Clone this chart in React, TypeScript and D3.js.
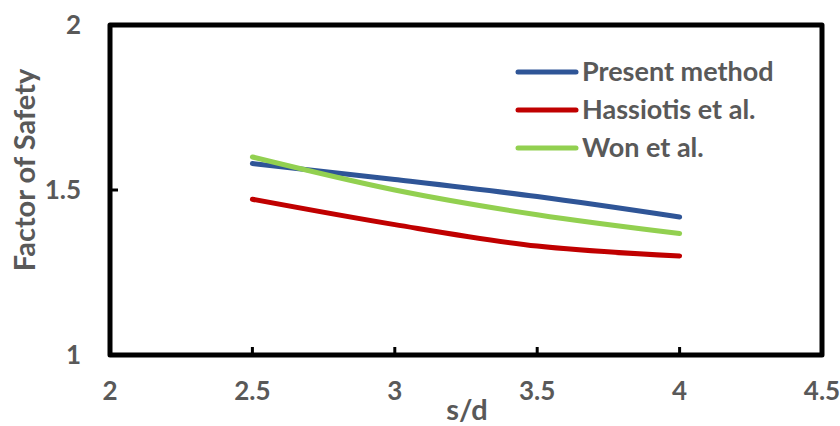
import React from "react";
import * as d3 from "d3";

const sdValues = [2.5, 3, 3.5, 4];
const presentMethod = [1.58, 1.532, 1.48, 1.418];
const hassiotis = [1.472, 1.395, 1.33, 1.3];
const won = [1.6, 1.5, 1.425, 1.368];
const seriesNames = ["Present method", "Hassiotis et al.", "Won et al."];
const seriesColors = ["#2F5597", "#C00000", "#92D050"];
const xTicks = [2, 2.5, 3, 3.5, 4, 4.5];
const yTicks = [1, 1.5, 2];

export default function App() {
  const W = 840, H = 426;
  const left = 110, right = 822, top = 25, bottom = 355;
  const x = d3.scaleLinear().domain([2, 4.5]).range([left, right]);
  const y = d3.scaleLinear().domain([1, 2]).range([bottom, top]);
  const line = d3
    .line<[number, number]>()
    .x((d) => x(d[0]))
    .y((d) => y(d[1]))
    .curve(d3.curveCatmullRom.alpha(0.5));
  const allSeries = [presentMethod, hassiotis, won];
  const font = "Lato, 'Open Sans', sans-serif";
  const grey = "#595959";
  return (
    <svg width={W} height={H} style={{ position: "absolute", left: 0, top: 0, background: "#fff" }}>
      <rect x={0} y={0} width={W} height={H} fill="#fff" />
      {allSeries.map((s, i) => (
        <path
          key={i}
          d={line(s.map((v, j) => [sdValues[j], v] as [number, number])) || ""}
          fill="none"
          stroke={seriesColors[i]}
          strokeWidth={5}
          strokeLinecap="round"
        />
      ))}
      <rect x={left} y={top} width={right - left} height={bottom - top} fill="none" stroke="#000" strokeWidth={5} strokeLinejoin="round" />
      {xTicks.filter((t) => t > 2 && t < 4.5).map((t) => (
        <line key={t} x1={x(t)} x2={x(t)} y1={bottom} y2={bottom - 8} stroke="#000" strokeWidth={3} />
      ))}
      {yTicks.filter((t) => t > 1 && t < 2).map((t) => (
        <line key={t} x1={left} x2={left + 8} y1={y(t)} y2={y(t)} stroke="#000" strokeWidth={3} />
      ))}
      {xTicks.map((t) => (
        <text key={t} x={x(t)} y={400} textAnchor="middle" fontFamily={font} fontWeight="bold" fontSize={26} fill={grey}>
          {String(t)}
        </text>
      ))}
      {yTicks.map((t) => (
        <text key={t} x={81} y={y(t) + 9} textAnchor="end" fontFamily={font} fontWeight="bold" fontSize={26} fill={grey}>
          {String(t)}
        </text>
      ))}
      <text x={467} y={420} textAnchor="middle" fontFamily={font} fontWeight="bold" fontSize={29} fill={grey}>
        s/d
      </text>
      <text
        transform={`translate(35,170) rotate(-90)`}
        textAnchor="middle"
        fontFamily={font}
        fontWeight="bold"
        fontSize={29}
        fill={grey}
      >
        Factor of Safety
      </text>
      {seriesNames.map((n, i) => (
        <g key={n} transform={`translate(0,${72 + i * 38})`}>
          <line x1={518} x2={576} y1={0} y2={0} stroke={seriesColors[i]} strokeWidth={5} strokeLinecap="round" />
          <text x={582} y={9} fontFamily={font} fontWeight="bold" fontSize={27} fill={grey}>
            {n}
          </text>
        </g>
      ))}
    </svg>
  );
}
